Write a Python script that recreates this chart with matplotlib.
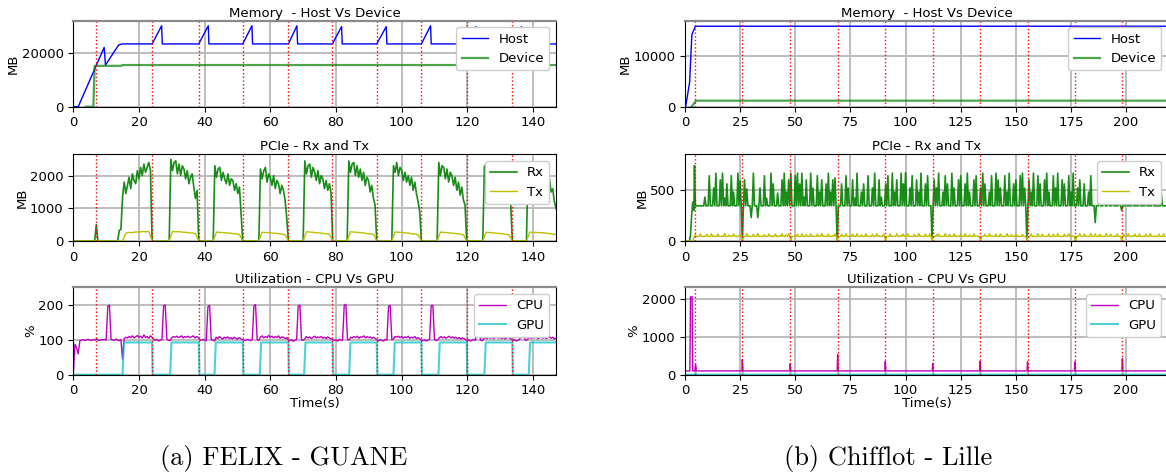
import numpy as np
import matplotlib
matplotlib.use("Agg")
import matplotlib.pyplot as plt

plt.rcParams['font.size'] = 9.5

# ---------------- (a) FELIX - GUANE ----------------
red_a = [7.0, 23.9, 38.2, 51.6, 65.5, 78.9, 92.4, 106.0, 119.8, 133.7]

host_a_t = [0, 1.5, 9.4, 9.8, 13.8, 14.8, 24.0, 26.9, 27.1, 38.2, 41.1, 41.3,
            51.6, 54.4, 54.6, 65.5, 68.1, 68.3, 78.9, 81.7, 81.9, 92.4, 95.3, 95.5,
            106.0, 108.8, 109.0, 119.8, 122.6, 122.8, 133.7, 136.5, 136.7, 147]
host_a = [0, 0, 22200, 15600, 23100, 23500, 23500, 30300, 23500, 23500, 30300, 23500,
          23500, 30300, 23500, 23500, 30300, 23500, 23500, 30000, 23500, 23500, 30000, 23500,
          23500, 30300, 23500, 23500, 30000, 23500, 23500, 30000, 23500, 23500]
device_a_t = [3.8, 6.1, 6.5, 14.5, 15.0, 147]
device_a = [0, 0, 15300, 15300, 15600, 15600]

# Rx samples every 0.5 s, one list per burst (start time, values)
rx_a_start = [6.5, 13.5, 29.2, 42.6, 56.5, 70.0, 83.4, 97.0, 110.8, 124.7, 138.0]
rx_a_vals = [
    [0, 500, 0],
    [0, 320, 360, 1350, 1800, 1450, 1700, 1950, 1600, 2050, 1850, 1750, 2150, 1900, 2250,
     2000, 2350, 2100, 2250, 2400, 2150, 0],
    [0, 2500, 2150, 2400, 2450, 2050, 2350, 2000, 2300, 2200, 1900, 2150, 1750, 1950, 2050,
     1650, 1300, 1550, 0],
    [0, 2300, 1950, 2200, 2250, 1850, 2100, 1900, 1750, 2050, 1700, 1900, 1850, 1550, 1750,
     1450, 1650, 800, 0],
    [0, 2200, 1900, 2150, 2250, 1800, 2050, 1950, 1700, 2000, 1600, 1850, 1750, 1450, 1700,
     1550, 1250, 700, 0],
    [0, 2450, 2050, 2300, 2350, 1950, 2250, 2100, 1850, 2150, 1750, 2000, 1900, 1600, 1850,
     1550, 1750, 1450, 0],
    [0, 2450, 2100, 2350, 2400, 2000, 2300, 1950, 2200, 1850, 2100, 1700, 1950, 1850, 1500,
     1700, 1300, 1100, 0],
    [0, 2300, 2100, 2400, 2000, 2250, 2150, 1850, 2100, 1800, 2000, 1700, 1950, 1550, 1800,
     1450, 1200, 900, 0],
    [0, 2400, 2000, 2300, 2250, 1900, 2200, 1800, 2100, 2000, 1700, 1950, 1550, 1800, 1400,
     1650, 1250, 1100, 0],
    [0, 2300, 2000, 2250, 2150, 1850, 2100, 1800, 2050, 1700, 1950, 1850, 1550, 1750, 1400,
     1600, 1250, 1150, 0],
    [0, 2400, 2050, 2350, 2250, 1950, 2200, 1850, 2100, 1750, 2000, 1900, 1600, 1850, 1900,
     1500, 1600, 1200, 1000],
]

# Tx samples every 1 s, one list per burst
tx_a_start = [15.0, 29.2, 42.6, 56.5, 70.0, 83.4, 97.0, 110.8, 124.7, 138.0]
tx_a_vals = [
    [0, 240, 262, 255, 278, 270, 290, 282, 292, 0],
    [0, 292, 280, 288, 270, 266, 252, 245, 225, 0],
    [0, 272, 262, 258, 246, 242, 226, 218, 198, 0],
    [0, 268, 256, 258, 242, 238, 222, 212, 192, 0],
    [0, 282, 272, 268, 252, 248, 232, 222, 202, 0],
    [0, 282, 272, 268, 252, 248, 228, 218, 198, 0],
    [0, 276, 268, 262, 248, 242, 222, 212, 192, 0],
    [0, 272, 262, 258, 242, 238, 222, 212, 192, 0],
    [0, 266, 258, 252, 238, 232, 218, 206, 188, 0],
    [0, 272, 262, 262, 252, 252, 238, 228, 208, 200],
]

# CPU utilisation every 0.5 s from t = 0
cpu_a = [
    0, 88, 78, 60, 98, 100, 101, 99, 100, 102, 100, 99, 101, 100, 103, 100, 99, 101, 100, 102,
    100, 197, 201, 102, 100, 99, 103, 100, 98, 101, 45, 104, 108, 106, 110, 107, 112, 106, 109, 113,
    108, 111, 106, 115, 107, 110, 105, 112, 108, 101, 99, 102, 97, 100, 101, 199, 201, 102, 100, 98,
    107, 110, 108, 111, 107, 109, 112, 106, 110, 108, 111, 107, 109, 112, 106, 110, 108, 101, 99, 102,
    100, 98, 196, 200, 101, 100, 97, 108, 104, 110, 106, 103, 108, 105, 109, 104, 107, 103, 108, 105,
    102, 107, 104, 101, 100, 99, 102, 100, 98, 101, 199, 202, 100, 99, 108, 112, 106, 110, 107, 113,
    108, 111, 106, 110, 107, 112, 105, 109, 108, 104, 107, 100, 98, 101, 96, 100, 101, 198, 201, 100,
    99, 103, 110, 106, 109, 104, 108, 111, 106, 109, 107, 110, 105, 108, 104, 109, 106, 103, 101, 99,
    100, 97, 102, 100, 99, 200, 203, 101, 100, 108, 106, 110, 107, 111, 105, 109, 108, 112, 106, 110,
    107, 109, 105, 108, 104, 100, 98, 101, 99, 97, 102, 100, 197, 200, 101, 103, 110, 108, 111, 107,
    110, 106, 109, 107, 111, 105, 108, 106, 110, 104, 107, 103, 100, 98, 101, 97, 100, 102, 199, 200,
    101, 99, 100, 107, 110, 106, 109, 105, 108, 111, 106, 109, 105, 108, 104, 107, 103, 106, 104, 101,
    99, 101, 97, 100, 102, 99, 198, 201, 100, 98, 103, 107, 104, 109, 105, 108, 104, 107, 110, 105,
    108, 104, 107, 103, 106, 109, 104, 102, 99, 101, 97, 100, 102, 198, 200, 101, 99, 104, 108, 105,
    109, 106, 110, 104, 107, 111, 105, 108, 104, 107, 110, 105, 108, 103, 106,
]

gpu_a_t = [0, 15.0, 15.4, 24.0, 24.2, 29.5, 29.9, 38.2, 38.4, 43.0, 43.4, 51.6, 51.8,
           56.8, 57.2, 65.5, 65.7, 70.3, 70.7, 79.0, 79.2, 84.0, 84.4, 92.4, 92.6,
           97.5, 97.9, 106.0, 106.2, 111.2, 111.6, 119.8, 120.0, 125.2, 125.6, 133.7, 133.9,
           138.7, 139.1, 147]
gpu_a = [0, 0, 93, 93, 0, 0, 93, 93, 0, 0, 93, 93, 0,
         0, 93, 93, 0, 0, 93, 93, 0, 0, 93, 93, 0,
         0, 93, 93, 0, 0, 93, 93, 0, 0, 93, 93, 0,
         0, 93, 93]

# ---------------- (b) Chifflot - Lille ----------------
red_b = [4.5, 26.0, 47.7, 69.2, 90.8, 112.3, 133.8, 155.3, 176.8, 198.3]

host_b_t = [0.3, 2.1, 3.1, 4.7, 219]
host_b = [0, 4900, 14300, 16000, 16000]
device_b_t = [3.0, 5.0, 219]
device_b = [0, 1200, 1200]

rx_b_early_t = [0, 2.0, 2.5, 3.0, 3.5, 4.0, 4.3, 4.7]
rx_b_early = [0, 0, 60, 250, 380, 300, 740, 345]
rx_b_base = 345
# Rx peak (or dip) in each 1 s slot from t = 5, back to the base level in between
rx_b = [
    345, 345, 345, 345, 430, 345, 640, 345, 520, 665,
    345, 600, 665, 420, 560, 345, 640, 480, 345, 665,
    590, 0, 600, 510, 345, 230, 665, 345, 230, 520,
    345, 640, 420, 345, 665, 560, 345, 470, 345, 600,
    665, 480, 600, 665, 345, 640, 665, 560, 665, 430,
    600, 345, 665, 520, 345, 640, 480, 600, 345, 560,
    665, 480, 600, 620, 0, 345, 560, 345, 640, 520,
    345, 600, 420, 665, 345, 480, 560, 345, 640, 345,
    520, 665, 345, 600, 430, 345, 560, 640, 345, 665,
    480, 600, 345, 665, 560, 670, 345, 520, 640, 345,
    600, 480, 665, 345, 560, 640, 345, 0, 600, 520,
    665, 345, 480, 640, 560, 345, 665, 520, 345, 600,
    640, 345, 560, 665, 480, 345, 600, 640, 345, 520,
    665, 560, 345, 480, 640, 345, 665, 600, 520, 345,
    640, 480, 665, 345, 560, 600, 345, 640, 665, 520,
    0, 600, 480, 665, 345, 640, 560, 345, 600, 665,
    480, 345, 640, 520, 665, 345, 600, 560, 345, 640,
    480, 665, 345, 520, 600, 345, 560, 345, 480, 640,
    345, 180, 345, 520, 345, 600, 345, 480, 345, 560,
    345, 345, 430, 300, 345, 520, 345, 345, 480, 345,
    345, 560, 345, 345, 430, 345, 345, 500, 345, 345,
    345, 460, 345, 345, 345,
]

tx_b_early_t = [0, 3.5, 4.5]
tx_b_early = [0, 0, 60]
tx_b_base = 45
# Tx peak (or dip) in each 1 s slot from t = 5
tx_b = [
    50, 45, 70, 45, 48, 65, 45, 72, 50, 45,
    68, 45, 50, 74, 45, 60, 45, 70, 48, 45,
    65, 0, 45, 72, 50, 45, 66, 45, 75, 48,
    45, 62, 45, 70, 50, 45, 68, 45, 55, 72,
    45, 60, 70, 0, 45, 50, 68, 45, 72, 45,
    62, 45, 70, 48, 45, 66, 45, 72, 50, 45,
    68, 45, 55, 70, 0, 45, 66, 48, 72, 45,
    50, 68, 45, 72, 45, 60, 45, 70, 48, 45,
    66, 45, 72, 50, 45, 68, 0, 45, 70, 48,
    45, 72, 45, 60, 68, 45, 70, 48, 45, 66,
    45, 72, 50, 45, 68, 45, 70, 0, 45, 62,
    70, 45, 48, 72, 45, 66, 45, 70, 50, 45,
    68, 45, 72, 45, 60, 45, 70, 48, 45, 0,
    45, 66, 45, 72, 50, 45, 68, 45, 70, 48,
    45, 72, 45, 62, 45, 70, 48, 45, 66, 45,
    0, 45, 70, 48, 45, 72, 45, 66, 50, 45,
    70, 45, 68, 45, 72, 48, 45, 66, 45, 70,
    45, 50, 0, 45, 72, 45, 68, 48, 45, 75,
    45, 70, 45, 66, 50, 45, 72, 45, 68, 45,
    48, 70, 45, 0, 66, 45, 72, 45, 50, 68,
    45, 70, 45, 48, 66, 45, 72, 45, 50, 45,
    68, 45, 70, 45, 45,
]

cpu_b_t = [0, 0.5, 2.2, 2.5, 3.2, 3.5, 4.4, 4.8, 5.2,
           25.8, 26.0, 26.3, 47.5, 47.7, 48.0, 69.0, 69.2, 69.5, 90.6, 90.8, 91.1,
           112.1, 112.3, 112.6, 133.6, 133.8, 134.1, 155.1, 155.3, 155.6,
           176.6, 176.8, 177.1, 198.1, 198.3, 198.6, 219]
cpu_b = [80, 100, 100, 2050, 2050, 100, 100, 270, 100,
         100, 400, 100, 100, 290, 100, 100, 530, 100, 100, 350, 100,
         100, 290, 100, 100, 350, 100, 100, 340, 100,
         100, 340, 100, 100, 420, 100, 100]

gpu_b_t = [0, 4.6, 4.8, 5.0, 26.0, 26.2, 26.4, 47.7, 47.9, 48.1, 69.2, 69.4, 69.6,
           90.8, 91.0, 91.2, 112.3, 112.5, 112.7, 133.8, 134.0, 134.2,
           155.3, 155.5, 155.7, 176.8, 177.0, 177.2, 198.3, 198.5, 198.7, 219]
gpu_b = [0, 0, 45, 0, 0, 45, 0, 0, 45, 0, 0, 45, 0,
         0, 45, 0, 0, 45, 0, 0, 45, 0,
         0, 45, 0, 0, 45, 0, 0, 45, 0, 0]


def bursts(starts, vals, step):
    # join the burst lists into one series (zeros in between)
    t_all, v_all = [0.0], [0.0]
    for s, v in zip(starts, vals):
        t_all.extend(s + step * np.arange(len(v)))
        v_all.extend(v)
    return np.array(t_all), np.array(v_all)


def spiky(early_t, early_v, peaks, base, t0):
    # one peak per second, base level at the half second
    t_p = t0 + np.arange(len(peaks))
    t = np.column_stack([t_p, t_p + 0.5]).ravel()
    v = np.column_stack([peaks, np.full(len(peaks), base)]).ravel()
    return np.concatenate([early_t, t]), np.concatenate([early_v, v])


def style(ax, xmax, ymax, yticks, ylabel, title, gray_top):
    ax.set_xlim(0, xmax)
    ax.set_ylim(0, ymax)
    ax.set_yticks(yticks)
    ax.set_ylabel(ylabel, labelpad=1)
    ax.set_title(title, fontsize=9.5, pad=3)
    ax.grid(True, color='#b8b8b8', linewidth=1.3)
    ax.legend(loc='upper right', fontsize=9.5, framealpha=1)
    if gray_top:
        ax.spines['top'].set_color('#8a8a8a')
        ax.spines['top'].set_linewidth(1.6)


W, H = 1166, 474
fig = plt.figure(figsize=(W / 100, H / 100), dpi=100)

rows = [(106.7, 86.0), (241.0, 86.7), (374.7, 87.4)]   # bottom, height in px
cols = [(73.3, 482.7), (685.0, 483.0)]                  # left, width in px


def make_ax(r, c):
    b, h = rows[r]
    l, w = cols[c]
    return fig.add_axes([l / W, 1 - b / H, w / W, h / H])


# ---- column a ----
ax = make_ax(0, 0)
ax.plot(host_a_t, host_a, color='b', lw=1, label='Host')
ax.plot(device_a_t, device_a, color='g', lw=1.6, alpha=0.7, label='Device')
for x in red_a:
    ax.axvline(x, color='red', ls=':', lw=1)
style(ax, 147, 32200, [0, 20000], 'MB', 'Memory  - Host Vs Device', True)

ax = make_ax(1, 0)
t, v = bursts(rx_a_start, rx_a_vals, 0.5)
ax.plot(t, v, color='g', lw=1.2, alpha=0.9, label='Rx')
t, v = bursts(tx_a_start, tx_a_vals, 1.0)
ax.plot(np.append(t, 147), np.append(v, v[-1]), color='y', lw=1, label='Tx')
for x in red_a:
    ax.axvline(x, color='red', ls=':', lw=1)
style(ax, 147, 2650, [0, 1000, 2000], 'MB', 'PCIe - Rx and Tx', False)

ax = make_ax(2, 0)
ax.plot(0.5 * np.arange(len(cpu_a)), cpu_a, color='m', lw=1, label='CPU')
ax.plot(gpu_a_t, gpu_a, color='c', lw=1.5, alpha=0.7, label='GPU')
for x in red_a:
    ax.axvline(x, color='red', ls=':', lw=1)
style(ax, 147, 252, [0, 100, 200], '%', 'Utilization - CPU Vs GPU', True)
ax.set_xlabel('Time(s)', labelpad=0)

# ---- column b ----
ax = make_ax(0, 1)
ax.plot(host_b_t, host_b, color='b', lw=1, label='Host')
ax.plot(device_b_t, device_b, color='g', lw=1.6, alpha=0.7, label='Device')
for x in red_b:
    ax.axvline(x, color='red', ls=':', lw=1)
style(ax, 219, 17100, [0, 10000], 'MB', 'Memory  - Host Vs Device', True)

ax = make_ax(1, 1)
t, v = spiky(rx_b_early_t, rx_b_early, rx_b, rx_b_base, 5)
ax.plot(t, v, color='g', lw=1.2, alpha=0.9, label='Rx')
t, v = spiky(tx_b_early_t, tx_b_early, tx_b, tx_b_base, 5)
ax.plot(t, v, color='y', lw=1, label='Tx')
for x in red_b:
    ax.axvline(x, color='red', ls=':', lw=1)
style(ax, 219, 850, [0, 500], 'MB', 'PCIe - Rx and Tx', False)

ax = make_ax(2, 1)
ax.plot(gpu_b_t, gpu_b, color='c', lw=1.5, alpha=0.7, label='GPU')
ax.plot(cpu_b_t, cpu_b, color='m', lw=1, label='CPU')
for x in red_b:
    ax.axvline(x, color='red', ls=':', lw=1)
h, l = ax.get_legend_handles_labels()
style(ax, 219, 2300, [0, 1000, 2000], '%', 'Utilization - CPU Vs GPU', True)
ax.legend(h[::-1], l[::-1], loc='upper right', fontsize=9.5, framealpha=1)
ax.set_xlabel('Time(s)', labelpad=0)

# sub-figure captions
fig.text(284 / W, 1 - 458 / H, '(a) FELIX - GUANE', ha='center', va='center',
         fontsize=19, family=['cmr10', 'DejaVu Serif'])
fig.text(888 / W, 1 - 458 / H, '(b) Chifflot - Lille', ha='center', va='center',
         fontsize=19, family=['cmr10', 'DejaVu Serif'])

fig.savefig('out.png', dpi=100)
